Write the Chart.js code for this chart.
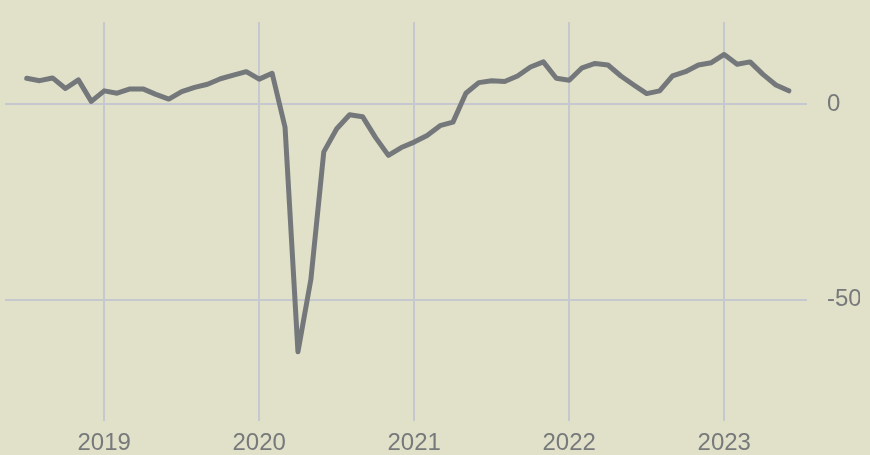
<!DOCTYPE html>
<html>
<head>
<meta charset="utf-8">
<script src="https://cdn.jsdelivr.net/npm/chart.js@4/dist/chart.umd.min.js"></script>
<style>
  html, body { margin: 0; padding: 0; background: #e1e1c9; }
  #wrap { width: 870px; height: 455px; }
</style>
</head>
<body>
<div id="wrap"><canvas id="myChart"></canvas></div>
<script>
// monthly readings, Jul 2018 - Jun 2023
let months = [
  '2018-07','2018-08','2018-09','2018-10','2018-11','2018-12',
  '2019-01','2019-02','2019-03','2019-04','2019-05','2019-06','2019-07','2019-08','2019-09','2019-10','2019-11','2019-12',
  '2020-01','2020-02','2020-03','2020-04','2020-05','2020-06','2020-07','2020-08','2020-09','2020-10','2020-11','2020-12',
  '2021-01','2021-02','2021-03','2021-04','2021-05','2021-06','2021-07','2021-08','2021-09','2021-10','2021-11','2021-12',
  '2022-01','2022-02','2022-03','2022-04','2022-05','2022-06','2022-07','2022-08','2022-09','2022-10','2022-11','2022-12',
  '2023-01','2023-02','2023-03','2023-04','2023-05','2023-06'
];
let values = [
  6.6, 6.0, 6.7, 4.0, 6.2, 0.7,
  3.4, 2.8, 3.9, 3.9, 2.5, 1.3, 3.2, 4.3, 5.1, 6.5, 7.4, 8.3,
  6.4, 7.9, -5.9, -63.3, -44.8, -12.2, -6.3, -2.7, -3.2, -8.5, -13.1, -11.1,
  -9.7, -8.0, -5.5, -4.6, 2.8, 5.5, 6.0, 5.8, 7.2, 9.5, 10.8, 6.6,
  6.1, 9.3, 10.4, 10.0, 7.2, 4.9, 2.7, 3.4, 7.2, 8.3, 10.0, 10.6,
  12.7, 10.2, 10.8, 7.6, 4.9, 3.4
];
let yearTicks = [2019, 2020, 2021, 2022, 2023];
let valueTicks = [-50, 0];

let points = months.map((m, i) => {
  let parts = m.split('-');
  return { x: Number(parts[0]) + (Number(parts[1]) - 1) / 12, y: values[i] };
});

let textColor = '#77797b';
let gridColor = '#c5c8cf';
let tickFont = { family: 'Liberation Sans, Arial, sans-serif', size: 24 };

let ctx = document.getElementById('myChart').getContext('2d');
let myChart = new Chart(ctx, {
    type: 'line',
    data: {
        datasets: [{
            data: points,
            borderColor: '#75787b',
            borderWidth: 5,
            borderJoinStyle: 'round',
            borderCapStyle: 'round',
            pointRadius: 0,
            tension: 0,
            fill: false
        }]
    },
    options: {
        responsive: true,
        maintainAspectRatio: false,
        animation: false,
        layout: {
            padding: { left: 5, right: 10, top: 22, bottom: 0 }
        },
        plugins: {
            legend: { display: false },
            tooltip: { enabled: false }
        },
        scales: {
            x: {
                type: 'linear',
                min: 2018.36,
                max: 2023.534,
                afterBuildTicks: axis => { axis.ticks = yearTicks.map(v => ({ value: v })); },
                afterFit: axis => { axis.height = 34; axis.paddingLeft = 0; axis.paddingRight = 0; },
                border: { display: false },
                grid: { color: gridColor, lineWidth: 2, drawTicks: false },
                ticks: {
                    padding: 8,
                    color: textColor,
                    font: tickFont,
                    callback: v => String(v),
                    maxRotation: 0
                }
            },
            y: {
                position: 'right',
                min: -81,
                max: 21,
                afterBuildTicks: axis => { axis.ticks = valueTicks.map(v => ({ value: v })); },
                afterFit: axis => { axis.width = 53; axis.paddingTop = 0; axis.paddingBottom = 0; },
                border: { display: false },
                grid: { color: gridColor, lineWidth: 2, drawTicks: false },
                ticks: {
                    padding: 20,
                    crossAlign: 'near',
                    color: textColor,
                    font: tickFont
                }
            }
        }
    }
});
</script>
</body>
</html>
